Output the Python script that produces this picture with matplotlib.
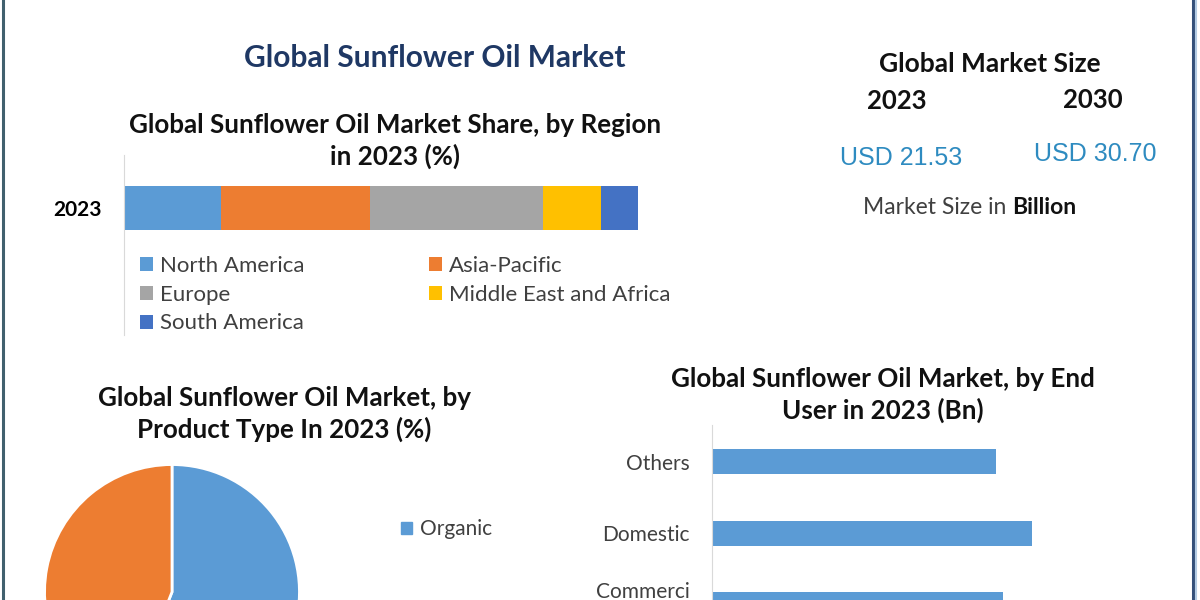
import matplotlib.pyplot as plt
from matplotlib.lines import Line2D
from matplotlib.patches import Patch

# data
regions = ["North America", "Asia-Pacific", "Europe", "Middle East and Africa", "South America"]
region_share = [18.9, 29.0, 33.6, 11.3, 7.2]
region_colors = ["#5B9BD5", "#ED7D31", "#A5A5A5", "#FFC000", "#4472C4"]

product_types = ["Organic", "Conventional"]
product_share = [56, 44]
product_colors = ["#5B9BD5", "#ED7D31"]

end_users = ["Others", "Domestic", "Commerci\nal"]
end_user_value = [6.83, 7.70, 7.00]

size_years = ["2023", "2030"]
size_values = ["USD 21.53", "USD 30.70"]

plt.rcParams["font.family"] = ["Lato", "DejaVu Sans"]

W, H = 1200, 600
fig = plt.figure(figsize=(12, 6), dpi=100)


def box(x0, y0, x1, y1):
    # pixel box (top-left origin) -> figure rect
    return [x0 / W, 1 - y1 / H, (x1 - x0) / W, (y1 - y0) / H]


# frame lines at the sides
fig.add_artist(Line2D([3 / W, 3 / W], [0, 1], color="#41606E", lw=2.2))
fig.add_artist(Line2D([1193 / W, 1193 / W], [0, 1], color="#34507A", lw=2.2))
fig.add_artist(Line2D([1196 / W, 1196 / W], [0, 1], color="#B4CCE4", lw=1.5))

# titles
fig.text(435 / W, 1 - 58 / H, "Global Sunflower Oil Market", ha="center", va="center",
         fontsize=21.5, color="#1F3864", fontweight="bold")
fig.text(395 / W, 1 - 141 / H, "Global Sunflower Oil Market Share, by Region\nin 2023 (%)",
         ha="center", va="center", fontsize=18.7, fontweight="bold", color="#111111",
         linespacing=1.3)

# stacked region bar
ax1 = fig.add_axes(box(124, 155, 638, 335))
left = 0
for name, val, col in zip(regions, region_share, region_colors):
    ax1.barh(0, val, left=left, height=1, color=col, label=name)
    left += val
ax1.set_xlim(0, 100)
ax1.set_ylim(-2.9, 1.2)
ax1.set_yticks([0])
ax1.set_yticklabels(["2023"], fontsize=15, fontweight="bold")
ax1.tick_params(axis="y", length=0, pad=16)
ax1.set_xticks([])
for s in ["top", "right", "bottom"]:
    ax1.spines[s].set_visible(False)
ax1.spines["left"].set_color("#D9D9D9")

handles, labels = ax1.get_legend_handles_labels()
order = [0, 2, 4, 1, 3]
leg = ax1.legend([handles[i] for i in order], [labels[i] for i in order], ncol=2,
                 loc="upper left", bbox_to_anchor=(0.014, 0.49), frameon=False,
                 fontsize=16, handlelength=0.6, handleheight=0.6, handletextpad=0.3,
                 columnspacing=5.6, labelspacing=0.4, borderaxespad=0)
for t in leg.get_texts():
    t.set_color("#404040")

# market size block
fig.text(990 / W, 1 - 64 / H, "Global Market Size", ha="center", va="center",
         fontsize=19, fontweight="bold", color="#111111")
fig.text(897 / W, 1 - 101 / H, size_years[0], ha="center", va="center",
         fontsize=18.5, fontweight="bold", color="#111111")
fig.text(1093 / W, 1 - 100 / H, size_years[1], ha="center", va="center",
         fontsize=18.5, fontweight="bold", color="#111111")
fig.text(901 / W, 1 - 158 / H, size_values[0], ha="center", va="center",
         fontsize=18, color="#2E8BC0", family=["Liberation Sans"])
fig.text(1095 / W, 1 - 154 / H, size_values[1], ha="center", va="center",
         fontsize=18, color="#2E8BC0", family=["Liberation Sans"])
t = fig.text(863 / W, 1 - 207 / H, "Market Size in ", ha="left", va="center",
             fontsize=16.5, color="#404040")
fig.canvas.draw()
bb = t.get_window_extent()
fig.text(bb.x1 / W, 1 - 207 / H, "Billion", ha="left", va="center",
         fontsize=16.5, fontweight="bold", color="#111111")

# pie by product type
fig.text(284 / W, 1 - 414 / H, "Global Sunflower Oil Market, by\nProduct Type In 2023 (%)",
         ha="center", va="center", fontsize=18.7, fontweight="bold", color="#111111",
         linespacing=1.3)
ax2 = fig.add_axes(box(42, 462, 302, 722))
ax2.pie(product_share, colors=product_colors, startangle=90, counterclock=False,
        radius=1, wedgeprops=dict(edgecolor="white", linewidth=2))
ax2.set_xlim(-1.02, 1.02)
ax2.set_ylim(-1.02, 1.02)
ax2.set_aspect("equal")
fig.legend([Patch(color=c) for c in product_colors], product_types,
           loc="upper left", bbox_to_anchor=(393 / W, 1 - 511 / H), frameon=False,
           fontsize=15, handlelength=0.5, handleheight=0.5, handletextpad=0.4,
           labelspacing=7, borderaxespad=0, labelcolor="#404040")

# end user bars
fig.text(883 / W, 1 - 395 / H, "Global Sunflower Oil Market, by End\nUser in 2023 (Bn)",
         ha="center", va="center", fontsize=18.7, fontweight="bold", color="#111111",
         linespacing=1.3)
ax3 = fig.add_axes(box(712, 425, 1148, 639.5))
ax3.barh(range(len(end_users)), end_user_value, height=0.35, color="#5B9BD5")
ax3.set_xlim(0, 10.5)
ax3.set_ylim(2.483, -0.517)
ax3.set_yticks([0, 1, 1.93])
ax3.set_yticklabels(end_users, fontsize=15, color="#404040", linespacing=1.45)
ax3.tick_params(axis="y", length=0, pad=16)
ax3.set_xticks([])
for s in ["top", "right", "bottom"]:
    ax3.spines[s].set_visible(False)
ax3.spines["left"].set_color("#D9D9D9")

fig.savefig("out.png", dpi=100)
